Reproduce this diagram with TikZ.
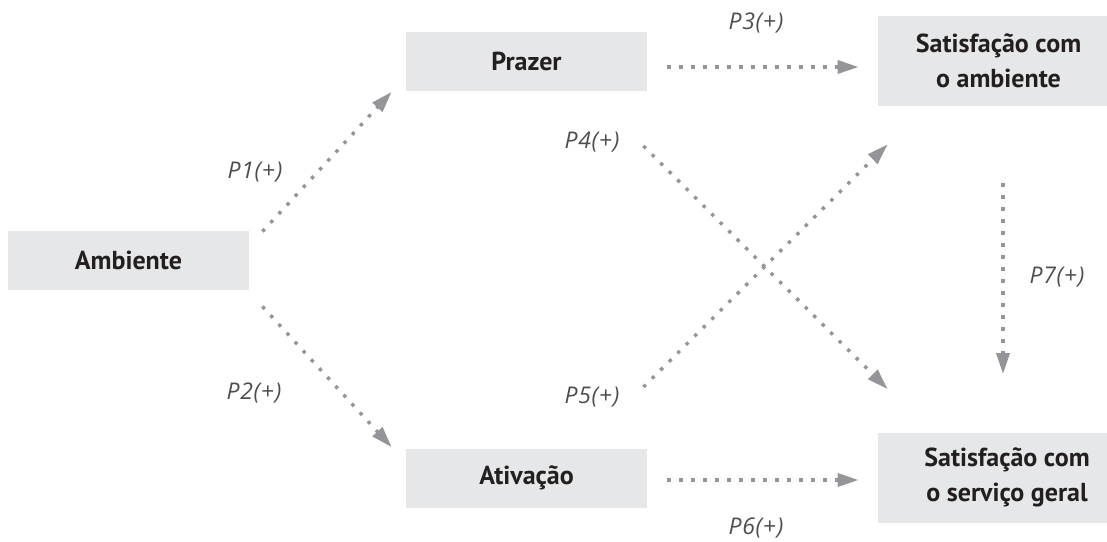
\documentclass[tikz,border=0pt]{standalone}
\usepackage{fontspec}
\setmainfont{PT Sans}
\newfontfamily\labelfont{Open Sans}[LetterSpace=3]
\usetikzlibrary{arrows.meta}
\definecolor{boxgray}{HTML}{E6E7E8}
\definecolor{arrowgray}{HTML}{939598}
\definecolor{textdark}{HTML}{231F20}
\tikzset{
    var-box/.style = {fill=boxgray, text=textdark, minimum width=120.5pt, minimum height=29.5pt, inner sep=0pt, align=center, font=\bfseries\fontsize{13}{17.5}\selectfont},
    var-box-tall/.style = {var-box, minimum height=45pt},
    path-arrow/.style = {draw=arrowgray, line width=1.7pt, dash pattern=on 1.7pt off 4.3pt, -{Triangle[length=10.5pt, width=6.5pt, fill=arrowgray]}},
    path-label/.style = {text=textdark!80, font=\labelfont\itshape\fontsize{11.5}{13}\selectfont},
}

\begin{document}
\begin{tikzpicture}[x=0.5pt, y=-0.5pt]
\useasboundingbox (0,0) rectangle (1107,541);

% variables
\node[var-box] (amb) at (128.5,260.5) {Ambiente};
\node[var-box] (praz) at (526.5,61) {Prazer};
\node[var-box] (ativ) at (526.5,478) {Ativação};
\node[var-box-tall] (satamb) at (998.5,61) {Satisfação com\\o ambiente};
\node[var-box-tall, minimum width=129pt] (satserv) at (1007,477.5) {Satisfação com\\o serviço geral};

% hypotheses
\draw[path-arrow] ([shift={(13,1)}]amb.north east) -- ([shift={(-14,1)}]praz.south west);
\draw[path-arrow] ([shift={(13,16)}]amb.south east) -- ([shift={(-14,-1)}]ativ.north west);
\draw[path-arrow] ([shift={(20,6)}]praz.east) -- ([shift={(-19,6)}]satamb.west);
\draw[path-arrow] ([shift={(-4,55)}]praz.south east) -- ([shift={(10,-43)}]satserv.north west);
\draw[path-arrow] ([shift={(-4,-61)}]ativ.north east) -- ([shift={(10,38)}]satamb.south west);
\draw[path-arrow] ([shift={(20,2)}]ativ.east) -- ([shift={(-19,2.5)}]satserv.west);
\draw[path-arrow] ([shift={(4.5,77)}]satamb.south) -- ([shift={(-4,-58)}]satserv.north);

% labels
\node[path-label] (p1) at (255,172) {P1(+)};
\node[path-label] (p2) at (254,393) {P2(+)};
\node[path-label] (p3) at (756,23) {P3(+)};
\node[path-label] (p4) at (592,142) {P4(+)};
\node[path-label] (p5) at (592,397) {P5(+)};
\node[path-label] (p6) at (756,528) {P6(+)};
\node[path-label] (p7) at (1057,277) {P7(+)};
\end{tikzpicture}
\end{document}
